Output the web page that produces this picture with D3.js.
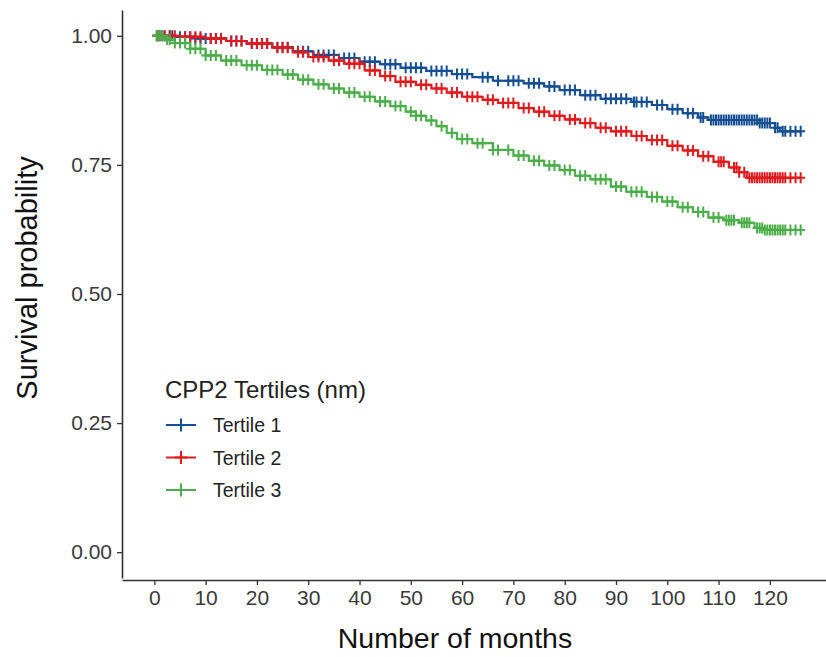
<!DOCTYPE html>
<html>
<head>
<meta charset="utf-8">
<script src="https://cdn.jsdelivr.net/npm/d3@7"></script>
<style>
  body { margin: 0; background: #fff; }
  svg { display: block; font-family: "Liberation Sans", Arial, sans-serif; }
</style>
</head>
<body>
<script>
const width = 826;
const height = 657;

const groups = ['Tertile 1', 'Tertile 2', 'Tertile 3'];
const colors = ['#154f92', '#e01b1e', '#4cae4a'];
const xTicks = [0, 10, 20, 30, 40, 50, 60, 70, 80, 90, 100, 110, 120];
const yTicks = [0, 0.25, 0.5, 0.75, 1];
const endTime = 126;

// step points [month, survival]
const tertile1 = [[0, 1], [4, 0.998], [8, 0.995], [14, 0.99], [18, 0.985], [23, 0.978], [27, 0.97],
  [31, 0.963], [36, 0.957], [40, 0.95], [44, 0.945], [48, 0.938], [53, 0.932], [58, 0.926],
  [62, 0.92], [66, 0.913], [72, 0.908], [76, 0.902], [79, 0.895], [83, 0.885], [87, 0.878],
  [93, 0.872], [97, 0.866], [100, 0.858], [103, 0.85], [106, 0.842], [108, 0.837], [118, 0.831],
  [121, 0.822], [122, 0.815]];
const tertile2 = [[0, 1], [5, 0.998], [10, 0.995], [14, 0.99], [18, 0.985], [23, 0.977], [27, 0.968],
  [30, 0.959], [34, 0.952], [37, 0.946], [41, 0.933], [44, 0.922], [47, 0.911], [51, 0.905],
  [54, 0.898], [57, 0.89], [60, 0.882], [64, 0.876], [67, 0.87], [71, 0.86], [74, 0.853],
  [77, 0.845], [80, 0.838], [83, 0.831], [86, 0.822], [89, 0.815], [93, 0.806], [96, 0.798],
  [100, 0.787], [103, 0.778], [106, 0.767], [109, 0.756], [112, 0.745], [114, 0.736], [115.5, 0.725]];
const tertile3 = [[0, 1], [2, 0.993], [4, 0.986], [7, 0.975], [10, 0.962], [13, 0.952], [17, 0.943],
  [21, 0.934], [25, 0.925], [28, 0.915], [31, 0.906], [34, 0.898], [37, 0.89], [40, 0.882],
  [43, 0.873], [46, 0.864], [49, 0.853], [51, 0.845], [53, 0.836], [55, 0.825], [57, 0.812],
  [59, 0.8], [62, 0.792], [66, 0.779], [70, 0.768], [73, 0.758], [76, 0.749], [79, 0.74],
  [82, 0.729], [85, 0.722], [89, 0.708], [92, 0.698], [96, 0.688], [99, 0.679], [102, 0.668],
  [105, 0.659], [108, 0.648], [111, 0.643], [114, 0.638], [117, 0.628], [119, 0.624]];

// censoring times (months)
const censor1 = [0.5, 1, 1.5, 2, 3, 3.5, 5, 6, 7, 8, 9, 10, 11, 12, 13, 15, 16, 17, 19, 20, 21, 22, 24,
  25, 26, 28, 29, 30, 32, 33, 34, 35, 37, 38, 39, 41, 42, 43, 45, 46, 47, 49, 50, 51, 52, 54, 55,
  56, 57, 59, 60, 61, 64, 65, 67, 69, 70, 71, 73, 74, 75, 77, 78, 80, 81, 82, 84, 85, 86, 88, 89,
  90, 91, 92, 93.5, 94, 95, 96, 98, 99, 101, 102, 104, 105, 106.5, 107, 108.5, 109, 109.5, 110,
  110.5, 111, 111.5, 112, 112.5, 113, 113.5, 114, 114.5, 115, 115.5, 116, 116.5, 117, 117.5, 118,
  118.5, 119, 119.5, 120, 121, 121.5, 122.5, 123, 124, 125, 126];
const censor2 = [0.5, 1, 2, 3, 4, 6, 7, 8, 9, 11, 12, 13, 15, 16, 17, 19, 20, 21, 22, 24, 25, 26, 28,
  29, 31, 32, 33, 35, 36, 38, 39, 40, 42, 43, 45, 46, 48, 49, 50, 52, 53, 55, 56, 58, 59, 61, 62, 63,
  65, 66, 68, 69, 70, 72, 73, 75, 76, 78, 79, 81, 82, 84, 85, 87, 88, 90, 91, 92, 94, 95, 97, 98,
  99, 101, 102, 104, 105, 107, 108, 110, 110.5, 111, 113, 113.5, 114, 115, 116, 116.5, 117, 117.5,
  118, 118.5, 119, 119.5, 120, 120.5, 121, 121.5, 122, 122.5, 123, 124, 125, 126];
const censor3 = [0.5, 1, 1.5, 2.5, 3, 4, 5, 6, 7, 8, 9, 10, 11, 12, 14, 15, 16, 18, 19, 20, 22, 23, 24,
  26, 27, 29, 30, 32, 33, 35, 36, 38, 39, 41, 42, 44, 45, 47, 48, 50, 51, 52, 54, 56, 58, 60, 61,
  63, 64, 66, 67, 69, 71, 72, 74, 75, 77, 78, 80, 81, 83, 84, 86, 87, 88, 90, 91, 93, 94, 95, 97,
  98, 100, 101, 103, 104, 106, 107, 109, 110, 111.5, 112, 112.5, 113, 114.5, 115, 115.5, 116,
  117.5, 118, 118.5, 119, 119.5, 120, 120.5, 121, 121.5, 122, 122.5, 123, 124, 125, 126];

const curves = [tertile1, tertile2, tertile3];
const censors = [censor1, censor2, censor3];

const svg = d3.select('body')
  .append('svg')
  .attr('width', width)
  .attr('height', height);

const x = d3.scaleLinear().domain([-6.3, 132.3]).range([122, 833]);
const y = d3.scaleLinear().domain([-0.05, 1.05]).range([578, 10]);

// survival at time t from step points
const survAt = (pts, t) => {
  let s = 1;
  pts.forEach(p => { if (p[0] <= t) s = p[1]; });
  return s;
};

const line = d3.line()
  .x(d => x(d[0]))
  .y(d => y(d[1]))
  .curve(d3.curveStepAfter);

const plus = (g, cx, cy, color, rx, ry) => {
  g.append('path')
    .attr('d', `M${cx - rx},${cy}H${cx + rx}M${cx},${cy - ry}V${cy + ry}`)
    .attr('stroke', color)
    .attr('stroke-width', 2)
    .attr('fill', 'none');
};

const plot = svg.append('g');

curves.forEach((pts, i) => {
  const full = pts.concat([[endTime, pts[pts.length - 1][1]]]);
  plot.append('path')
    .datum(full)
    .attr('d', line)
    .attr('fill', 'none')
    .attr('stroke', colors[i])
    .attr('stroke-width', 2.2);

  censors[i].forEach(t => {
    plus(plot, x(t), y(survAt(pts, t)), colors[i], 4.5, 5.5);
  });
});

// axes
const xAxis = svg.append('g')
  .attr('transform', 'translate(0,580)')
  .call(d3.axisBottom(x).tickValues(xTicks).tickSize(5).tickSizeOuter(0).tickPadding(5));
const yAxis = svg.append('g')
  .attr('transform', 'translate(122,0)')
  .call(d3.axisLeft(y).tickValues(yTicks).tickFormat(d3.format('.2f'))
    .tickSize(5).tickSizeOuter(0).tickPadding(5));

[xAxis, yAxis].forEach(a => {
  a.select('.domain').attr('stroke', '#333').attr('stroke-width', 1.6);
  a.selectAll('.tick line').attr('stroke', '#333').attr('stroke-width', 1.3);
  a.selectAll('.tick text').attr('fill', '#3a3a3a').style('font-size', '21px');
});

svg.append('text')
  .attr('x', 455)
  .attr('y', 648)
  .attr('text-anchor', 'middle')
  .style('font-size', '28.5px')
  .attr('fill', '#111')
  .text('Number of months');

svg.append('text')
  .attr('transform', 'translate(37,278) rotate(-90)')
  .attr('text-anchor', 'middle')
  .style('font-size', '29px')
  .attr('fill', '#111')
  .text('Survival probability');

// legend
const legend = svg.append('g');
legend.append('text')
  .attr('x', 165)
  .attr('y', 398)
  .style('font-size', '24px')
  .attr('fill', '#222')
  .text('CPP2 Tertiles (nm)');

groups.forEach((name, i) => {
  const ly = 425 + i * 32.5;
  legend.append('line')
    .attr('x1', 166).attr('x2', 196)
    .attr('y1', ly).attr('y2', ly)
    .attr('stroke', colors[i])
    .attr('stroke-width', 2);
  plus(legend, 181, ly, colors[i], 6, 6.5);
  legend.append('text')
    .attr('x', 213)
    .attr('y', ly + 7)
    .style('font-size', '19.5px')
    .attr('fill', '#222')
    .text(name);
});
</script>
</body>
</html>
